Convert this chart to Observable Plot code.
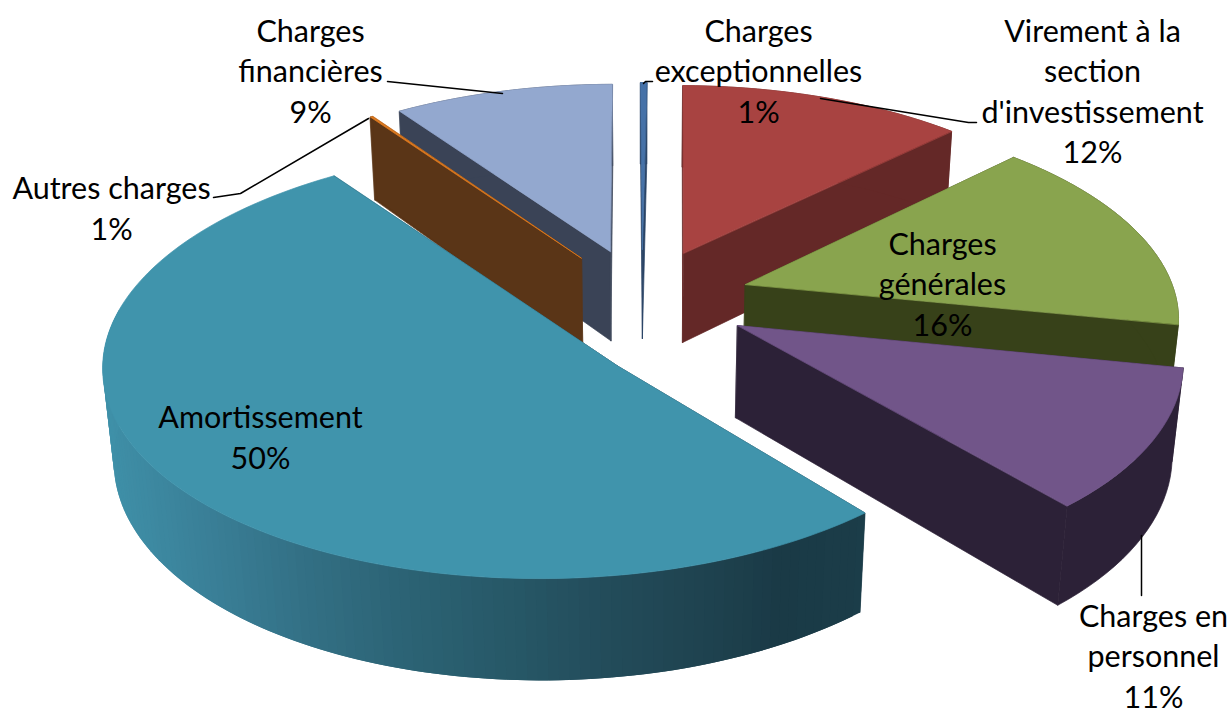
<!DOCTYPE html>
<html>
<head>
<meta charset="utf-8">
<style>html,body{margin:0;padding:0;background:#fff}svg{display:block}</style>
<script src="https://cdn.jsdelivr.net/npm/d3@7"></script>
<script src="https://cdn.jsdelivr.net/npm/@observablehq/plot@0.6"></script>
</head>
<body>
<div id="chart"></div>
<script>
// ---- data
const categories = ["Virement à la\nsection\nd'investissement","Charges\ngénérales","Charges en\npersonnel","Amortissement","Autres charges","Charges\nfinancières","Charges\nexceptionnelles"];
const shownPercent = [12,16,11,50,1,9,1];
// share of the circle each drawn slice actually occupies, in percent (measured on the picture)
const drawnShare = [12.44,15.5,10.7,51.4,0.11,9.58,0.27];
const firstAngle = 0.7;
// ---- styling
const topColors  = ["#A84341","#89A44E","#715589","#4094AC","#E07B20","#93A8CF","#4672A8"];
const sideColors = ["#642827","#374119","#2C2137","#1A3A46","#5A3517","#3A4356","#2A4465"];
const gradientX = [101,200,300,400,500,600,700,780,870];
const gradientC = ["#3F90A8","#3A8098","#337085","#2C6375","#275968","#234C5B","#1F4350","#1A3A46","#1B3D49"];
const paintOrder = [6,5,4,0,1,2,3];
// ---- projection of the tilted disc
const view = {cx:641.5, cy:298.5, a:431, b:203, p:0.14, e:0.253, h:93, m:0.02};
const apexShift = {3:[64,35]};
const widthStretch = {3:1.009};
const wallEnd = {3:276};
const labelPos = [[1092,89],[942,282],[1153,654],[260,435],[111,206],[310,69],[758,69]];
const leaders = [
  [[820,98],[968,122],[976,122]],
  [],
  [[1141,535],[1141,595]],
  [],
  [[213,197],[240,193],[368,118]],
  [[387,81],[502,93]],
  [[643,83],[645,81],[652,81]]
];

const rad = d => d*Math.PI/180;
function project(u,v,bottom){
  const D = 1+view.p*v+(bottom?view.m:0);
  return [view.cx+view.a*u/D, view.cy+(-view.b*v+(bottom?view.h:0))/D];
}
let cum = firstAngle;
const slices = drawnShare.map((s,i)=>{
  const t0=cum, t1=cum+s*3.6; cum=t1;
  const mid=(t0+t1)/2;
  return {i,t0,t1,du:view.e*Math.sin(rad(mid)),dv:view.e*Math.cos(rad(mid))};
});
function rim(s,t,bottom){
  const w=widthStretch[s.i]||1;
  return project(s.du+w*Math.sin(rad(t)),s.dv+Math.cos(rad(t)),bottom);
}
function apex(s,bottom){
  const p=project(s.du,s.dv,bottom), n=apexShift[s.i]||[0,0];
  return [p[0]+n[0],p[1]+n[1]];
}
const under=[], strips=[], finalTop=[];
let pid=0;
function addPoly(target,pts,fill){const id=pid++;pts.forEach(q=>target.push({id,x:q[0],y:q[1],fill}));}
const gradient=d3.scaleLinear().domain(gradientX).range(gradientC).clamp(true);
for(const i of paintOrder){
  const s=slices[i];
  addPoly(under,[apex(s,false),rim(s,s.t0,false),rim(s,s.t0,true),apex(s,true)],sideColors[i]);
  addPoly(under,[apex(s,false),rim(s,s.t1,false),rim(s,s.t1,true),apex(s,true)],sideColors[i]);
  const n=Math.max(1,Math.ceil((s.t1-s.t0)/(i===3?1.2:2)));
  const ts=d3.range(n+1).map(k=>s.t0+(s.t1-s.t0)*k/n);
  if(i===3){
    const visible=ts.filter(t=>t<=wallEnd[3]);
    for(let k=0;k<visible.length-1;k++){
      const end=visible[Math.min(k+2,visible.length-1)];
      const q=[rim(s,visible[k],false),rim(s,end,false),rim(s,end,true),rim(s,visible[k],true)];
      const mx=(rim(s,visible[k],false)[0]+rim(s,visible[k+1],false)[0])/2;
      addPoly(strips,q,d3.color(gradient(mx)).formatHex());
    }
    addPoly(finalTop,[apex(s,false),...ts.map(t=>rim(s,t,false))],topColors[i]);
  } else {
    addPoly(under,[...ts.map(t=>rim(s,t,false)),...ts.slice().reverse().map(t=>rim(s,t,true))],sideColors[i]);
    addPoly(under,[apex(s,false),...ts.map(t=>rim(s,t,false))],topColors[i]);
  }
}
const labels=categories.map((c,i)=>({x:labelPos[i][0],y:labelPos[i][1],text:c+"\n"+shownPercent[i]+"%"}));
const leaderRows=leaders.flatMap((l,i)=>l.map(q=>({id:i,x:q[0],y:q[1]})));
const fontSize=30.5;
const chart=Plot.plot({
  width:1231,height:709,margin:0,
  style:{background:"#fff"},
  x:{domain:[0,1231],range:[0,1231],axis:null},
  y:{domain:[0,709],range:[0,709],axis:null},
  marks:[
    Plot.line(under,{x:"x",y:"y",z:"id",fill:"fill",stroke:"fill",strokeWidth:0.7,curve:"linear-closed"}),
    Plot.line(strips,{x:"x",y:"y",z:"id",fill:"fill",stroke:"none",curve:"linear-closed"}),
    Plot.line(finalTop,{x:"x",y:"y",z:"id",fill:"fill",stroke:"fill",strokeWidth:0.7,curve:"linear-closed"}),
    Plot.line(leaderRows,{x:"x",y:"y",z:"id",stroke:"#000",strokeWidth:1.5}),
    Plot.text(labels,{x:"x",y:"y",text:"text",fontSize,fontFamily:"Lato",fill:"#000",lineAnchor:"middle",lineHeight:40.4/fontSize})
  ]
});
document.getElementById("chart").appendChild(chart);
</script>
</body>
</html>
